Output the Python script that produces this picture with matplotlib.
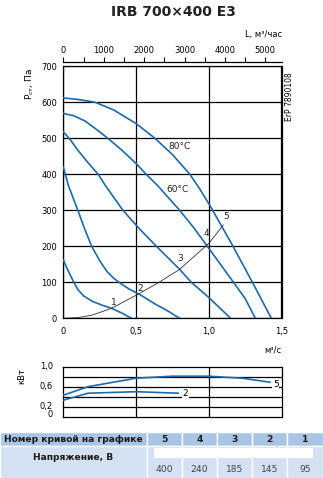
import numpy as np
import matplotlib
matplotlib.use("Agg")
import matplotlib.pyplot as plt
from matplotlib.patches import Rectangle
from matplotlib.ticker import FixedLocator, MultipleLocator

plt.rcParams["font.family"] = ["DejaVu Sans"]

# %% data
# fan curves, Q in m3/s, P in Pa
q1 = [0, 0.03, 0.07, 0.10, 0.14, 0.20, 0.27, 0.33, 0.40, 0.47]
p1 = [162, 135, 102, 80, 62, 47, 36, 28, 15, 0]

q2 = [0, 0.034, 0.10, 0.15, 0.195, 0.25, 0.30, 0.35, 0.40, 0.45, 0.53, 0.63, 0.72, 0.80]
p2 = [420, 370, 300, 245, 200, 160, 130, 110, 95, 82, 65, 40, 20, 0]

q3 = [0, 0.05, 0.10, 0.17, 0.24, 0.287, 0.41, 0.52, 0.64, 0.80, 0.88, 1.0, 1.15]
p3 = [518, 495, 467, 432, 400, 370, 300, 250, 200, 136, 100, 58, 0]

q4 = [0, 0.07, 0.15, 0.22, 0.30, 0.40, 0.50, 0.57, 0.65, 0.80, 0.90, 0.99, 1.08, 1.17, 1.25, 1.32]
p4 = [569, 563, 548, 527, 502, 468, 430, 400, 368, 300, 250, 200, 150, 100, 55, 0]

q5 = [0, 0.10, 0.22, 0.35, 0.50, 0.63, 0.75, 0.87, 0.94, 1.01, 1.08, 1.16, 1.30, 1.43]
p5 = [612, 608, 600, 578, 541, 500, 455, 400, 358, 312, 262, 205, 100, 0]

# system curve
qs = [0, 0.1, 0.2, 0.333, 0.505, 0.65, 0.80, 1.0, 1.10]
ps = [0, 2, 9, 28, 65, 98, 136, 208, 259]

# power, kW
qp5 = [0, 0.17, 0.5, 0.75, 1.0, 1.23, 1.42]
pp5 = [0.43, 0.60, 0.77, 0.81, 0.81, 0.77, 0.69]
qp2 = [0, 0.17, 0.5, 0.79]
pp2 = [0.33, 0.47, 0.50, 0.47]

# table
curve_nums = ["5", "4", "3", "2", "1"]
voltages = [400, 240, 185, 145, 95]

blue = "#1d6aab"
W, H = 323, 478

# %%
fig = plt.figure(figsize=(W / 100, H / 100), dpi=100)


def box(x0, y0, x1, y1):
    # pixel box (top-left origin) -> figure fraction
    return [x0 / W, 1 - y1 / H, (x1 - x0) / W, (y1 - y0) / H]


fig.text(173 / W, 1 - 12 / H, "IRB 700×400 E3", ha="center", va="center",
         fontsize=10, fontweight="bold", color="#222222")

# main chart
ax = fig.add_axes(box(63.3, 66.3, 281.5, 318.3))
for q, p in [(q1, p1), (q2, p2), (q3, p3), (q4, p4), (q5, p5)]:
    ax.plot(q, p, color=blue, lw=1.2, solid_joinstyle="round", zorder=3)
ax.plot(qs, ps, color="#333333", lw=0.6, zorder=4)
ax.set_xlim(0, 1.5)
ax.set_ylim(0, 700)
ax.set_xticks([0, 0.5, 1.0, 1.5])
ax.set_xticklabels(["0", "0,5", "1,0", "1,5"])
ax.set_yticks(range(0, 701, 100))
ax.tick_params(length=0, labelsize=6)
ax.tick_params(axis="x", pad=6)
ax.tick_params(axis="y", pad=4.5)
ax.grid(True, color="black", lw=0.9)
ax.set_axisbelow(True)
for s in ax.spines.values():
    s.set_linewidth(0.9)

# top axis in m3/h
sec = ax.secondary_xaxis("top", functions=(lambda q: q * 3600, lambda L: L / 3600))
sec.set_xticks([0, 1000, 2000, 3000, 4000, 5000])
sec.xaxis.set_minor_locator(MultipleLocator(500))
sec.tick_params(which="major", length=3.5, width=0.8, labelsize=6, pad=1.5)
sec.tick_params(which="minor", length=3.5, width=0.8)
sec.spines["top"].set_position(("outward", 3))
sec.spines["top"].set_linewidth(0.9)

lbl = dict(fontsize=6.5, color="#222222", ha="center", va="center", zorder=6)
ax.text(0.345, 43, "1", **lbl)
ax.text(0.53, 83, "2", **lbl)
ax.text(0.80, 167, "3", **lbl)
ax.text(0.985, 236, "4", **lbl)
ax.text(1.12, 282, "5", **lbl)
ax.text(0.80, 477, "80°C", **lbl)
ax.text(0.785, 358, "60°C", **lbl)

fig.text(282 / W, 1 - 34 / H, "L, м³/час", ha="right", va="center", fontsize=6)
fig.text(30 / W, 1 - 84 / H, r"P$_{\mathrm{ст}}$, Па", rotation=90,
         ha="center", va="center", fontsize=6.5)
fig.text(289 / W, 1 - 97 / H, "ErP 7890108", rotation=90, ha="center",
         va="center", fontsize=5.5)
fig.text(281 / W, 1 - 350 / H, "м³/с", ha="right", va="center", fontsize=6)

# power chart
axp = fig.add_axes(box(63.3, 366.7, 281.5, 416.7))
axp.plot(qp5, pp5, color=blue, lw=1.2, zorder=3)
axp.plot(qp2, pp2, color=blue, lw=1.2, zorder=3)
axp.set_xlim(0, 1.5)
axp.set_ylim(0, 1.0)
axp.xaxis.set_major_locator(FixedLocator([0.5, 1.0]))
axp.yaxis.set_major_locator(FixedLocator([0.2, 0.4, 0.6, 0.8]))
axp.grid(True, color="black", lw=0.9)
axp.set_axisbelow(True)
axp.tick_params(length=0, labelbottom=False, labelleft=False)
for s in axp.spines.values():
    s.set_linewidth(0.9)
for v, t in [(1.0, "1,0"), (0.6, "0,6"), (0.2, "0,2"), (0.04, "0")]:
    axp.text(-0.07, v, t, ha="right", va="center", fontsize=6)
plbl = dict(fontsize=6.5, ha="center", va="center", zorder=6,
            bbox=dict(boxstyle="square,pad=0.1", fc="white", ec="none"))
axp.text(0.84, 0.46, "2", **plbl)
axp.text(1.46, 0.65, "5", **plbl)
fig.text(22 / W, 1 - 376 / H, "кВт", rotation=90, ha="center", va="center",
         fontsize=6)

# table
axt = fig.add_axes([0, 0, 1, 1], zorder=-1)
axt.set_xlim(0, W)
axt.set_ylim(H, 0)
axt.axis("off")
hdr_c = "#a9c5e6"
row_c = "#d3e1f2"
cols = [147, 182, 217, 252, 287, 323]
axt.add_patch(Rectangle((0, 431.7), 147, 14.3, fc=hdr_c, ec="white", lw=1))
axt.add_patch(Rectangle((0, 446), 147, 31.5, fc=row_c, ec="white", lw=1))
axt.text(73, 439, "Номер кривой на графике", ha="center", va="center",
         fontsize=6.6, fontweight="bold", color="#1a1a1a")
axt.text(73, 458, "Напряжение, В", ha="center", va="center",
         fontsize=6.6, fontweight="bold", color="#1a1a1a")
for i, (n, v) in enumerate(zip(curve_nums, voltages)):
    x0, x1 = cols[i], cols[i + 1]
    axt.add_patch(Rectangle((x0, 431.7), x1 - x0, 14.3, fc=hdr_c, ec="white", lw=1))
    axt.add_patch(Rectangle((x0, 446), x1 - x0, 31.5, fc=row_c, ec="white", lw=1))
    axt.text((x0 + x1) / 2, 439, n, ha="center", va="center", fontsize=6.6,
             fontweight="bold", color="#1a1a1a")
    axt.text((x0 + x1) / 2, 470, str(v), ha="center", va="center",
             fontsize=6.6, color="#444444")
axt.add_patch(Rectangle((153.7, 448.3), 159.6, 10, fc="white", ec="none"))

fig.savefig("out.png", dpi=100)
